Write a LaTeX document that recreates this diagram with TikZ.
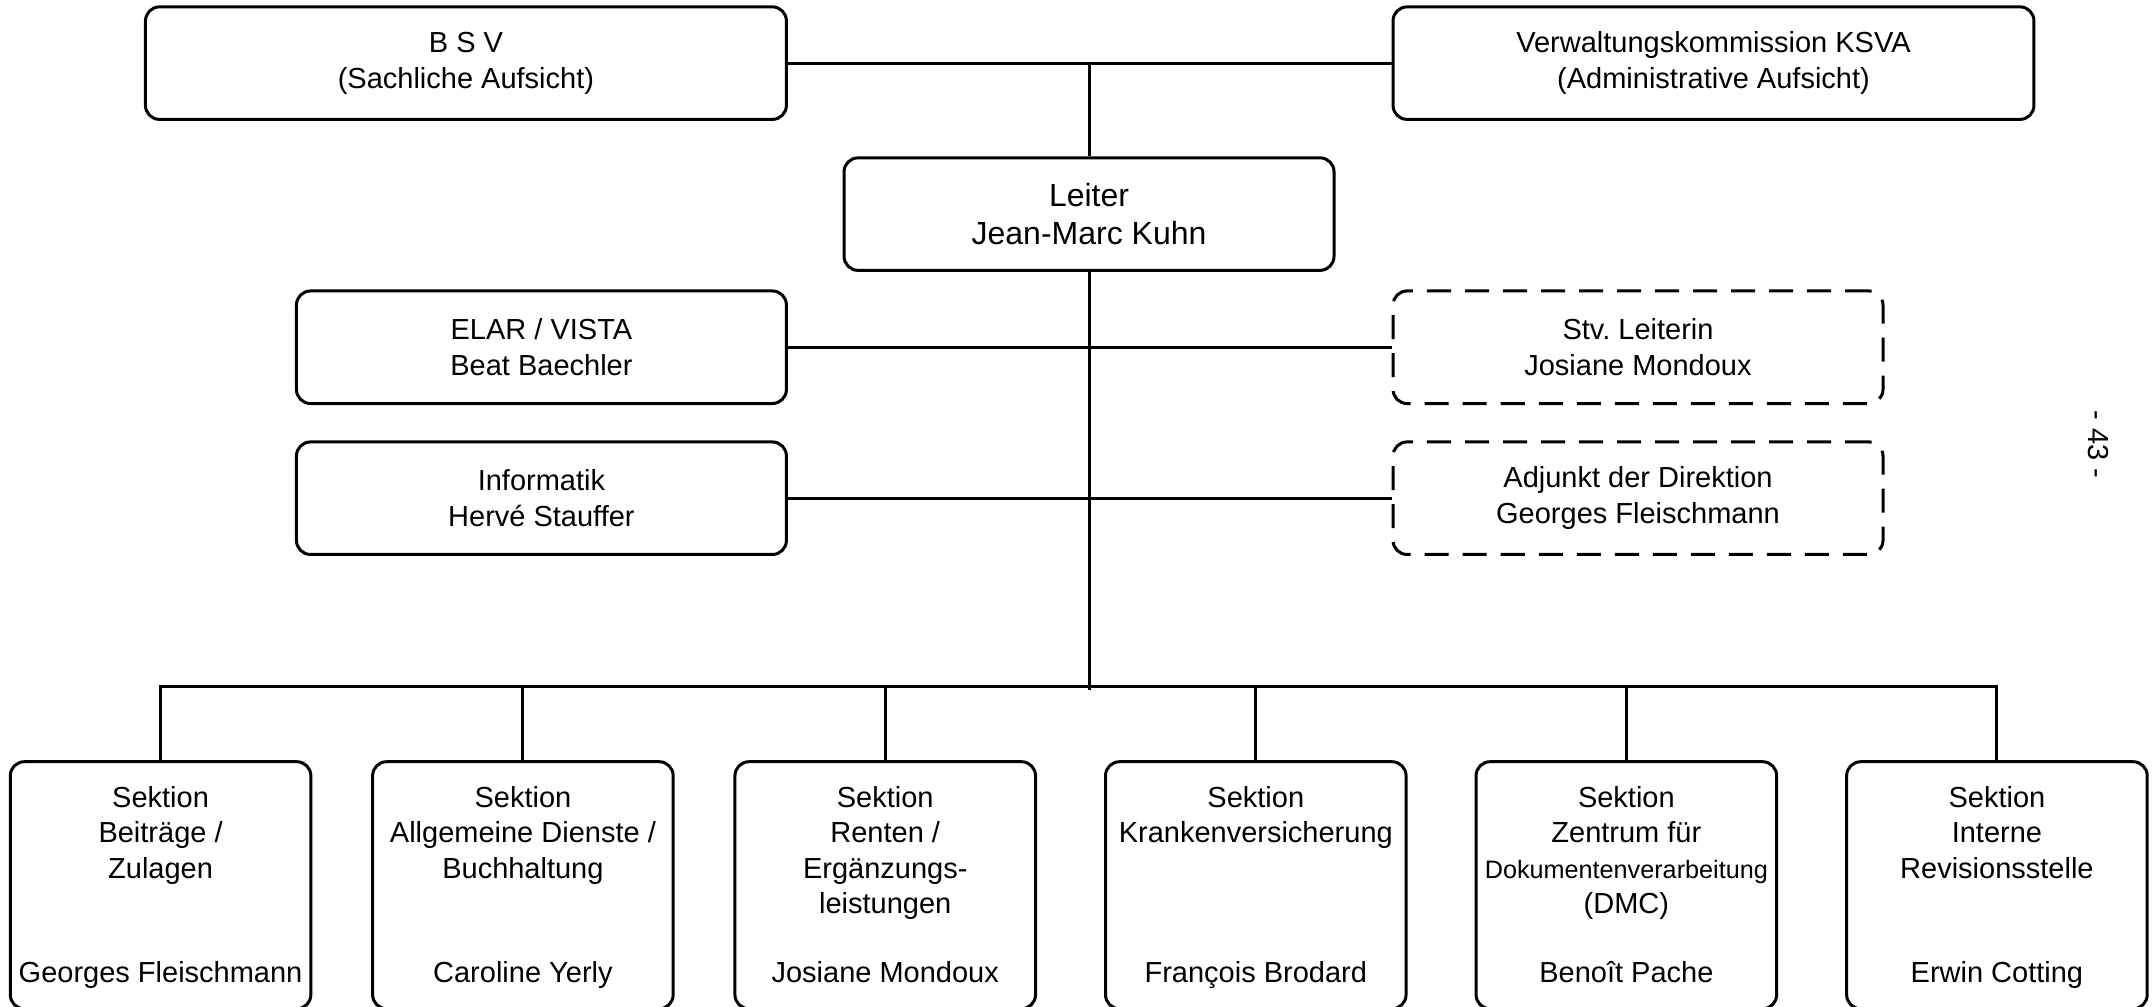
\documentclass[tikz,border=0pt]{standalone}
\usepackage{fontspec}
\setmainfont{Liberation Sans}
\begin{document}
\begin{tikzpicture}[x=0.6862pt,y=-0.6862pt,
  bx/.style 2 args={minimum width=#1*0.6862pt, minimum height=#2*0.6862pt},
  box/.style={draw, rounded corners=7pt, line width=1.5pt, align=center, inner sep=0pt,
    font=\fontsize{14.5}{17.8}\selectfont},
  dbox/.style={box, dash pattern=on 12pt off 7pt},
  sbox/.style={draw, rounded corners=7pt, line width=1.5pt, inner sep=0pt, bx={219}{180}},
  stext/.style={anchor=north, inner sep=0pt, align=center, font=\fontsize{14.5}{17.8}\selectfont},
  sname/.style={anchor=base, inner sep=0pt, font=\fontsize{14.5}{17.8}\selectfont},
  conn/.style={line width=1.5pt}]
\useasboundingbox (0,0) rectangle (1568,733);

% top level
\node[box, bx={467}{82}] (bsv) at (339.5,46) {B S V\\(Sachliche Aufsicht)};
\node[box, bx={467}{82}] (vk) at (1248.5,46) {Verwaltungskommission KSVA\\(Administrative Aufsicht)};
\node[box, bx={357}{82}, font=\fontsize{16}{19.2}\selectfont] (leiter) at (793.5,156) {Leiter\\Jean-Marc Kuhn};

\node[box, bx={357}{82}] (elar) at (394.5,253) {ELAR / VISTA\\Beat Baechler};
\node[dbox, bx={357}{82}] (stv) at (1193.5,253) {Stv.\ Leiterin\\Josiane Mondoux};
\node[box, bx={357}{82}] (inf) at (394.5,363) {Informatik\\Hervé Stauffer};
\node[dbox, bx={357}{82}] (adj) at (1193.5,363) {Adjunkt der Direktion\\Georges Fleischmann};

% sections
\node[sbox] (s1) at (117,645) {};
\node[sbox] (s2) at (381,645) {};
\node[sbox] (s3) at (645,645) {};
\node[sbox] (s4) at (915,645) {};
\node[sbox] (s5) at (1185,645) {};
\node[sbox] (s6) at (1455,645) {};

\node[stext] (t1) at (117,572.5) {Sektion\\Beiträge /\\Zulagen};
\node[stext] (t2) at (381,572.5) {Sektion\\Allgemeine Dienste /\\Buchhaltung};
\node[stext] (t3) at (645,572.5) {Sektion\\Renten /\\Ergänzungs-\\leistungen};
\node[stext] (t4) at (915,572.5) {Sektion\\Krankenversicherung};
\node[stext] (t5) at (1185,572.5) {Sektion\\Zentrum für\\{\fontsize{12.6}{15}\selectfont Dokumentenverarbeitung}\\(DMC)};
\node[stext] (t6) at (1455,572.5) {Sektion\\Interne\\Revisionsstelle};

\node[sname] (n1) at (117,715.5) {Georges Fleischmann};
\node[sname] (n2) at (381,715.5) {Caroline Yerly};
\node[sname] (n3) at (645,715.5) {Josiane Mondoux};
\node[sname] (n4) at (915,715.5) {François Brodard};
\node[sname] (n5) at (1185,715.5) {Benoît Pache};
\node[sname] (n6) at (1455,715.5) {Erwin Cotting};

% page number
\node[rotate=-90, inner sep=0pt, font=\fontsize{14.5}{17.8}\selectfont] (page) at (1529,324) {- 43 -};

% connectors
\coordinate (bus) at (793.5,500);
\coordinate (busend) at (793.5,503);
\draw[conn] (bsv.east) -- (vk.west);
\draw[conn] (leiter.north) -- (leiter.north |- bsv.east);
\draw[conn] (elar.east) -- (stv.west);
\draw[conn] (inf.east) -- (adj.west);
\draw[conn] (leiter.south) -- (busend);
\draw[conn] (s1.north) -- (s1.north |- bus) -- (s6.north |- bus) -- (s6.north);
\foreach \s in {s2,s3,s4,s5} \draw[conn] (\s.north) -- (\s.north |- bus);
\end{tikzpicture}
\end{document}
